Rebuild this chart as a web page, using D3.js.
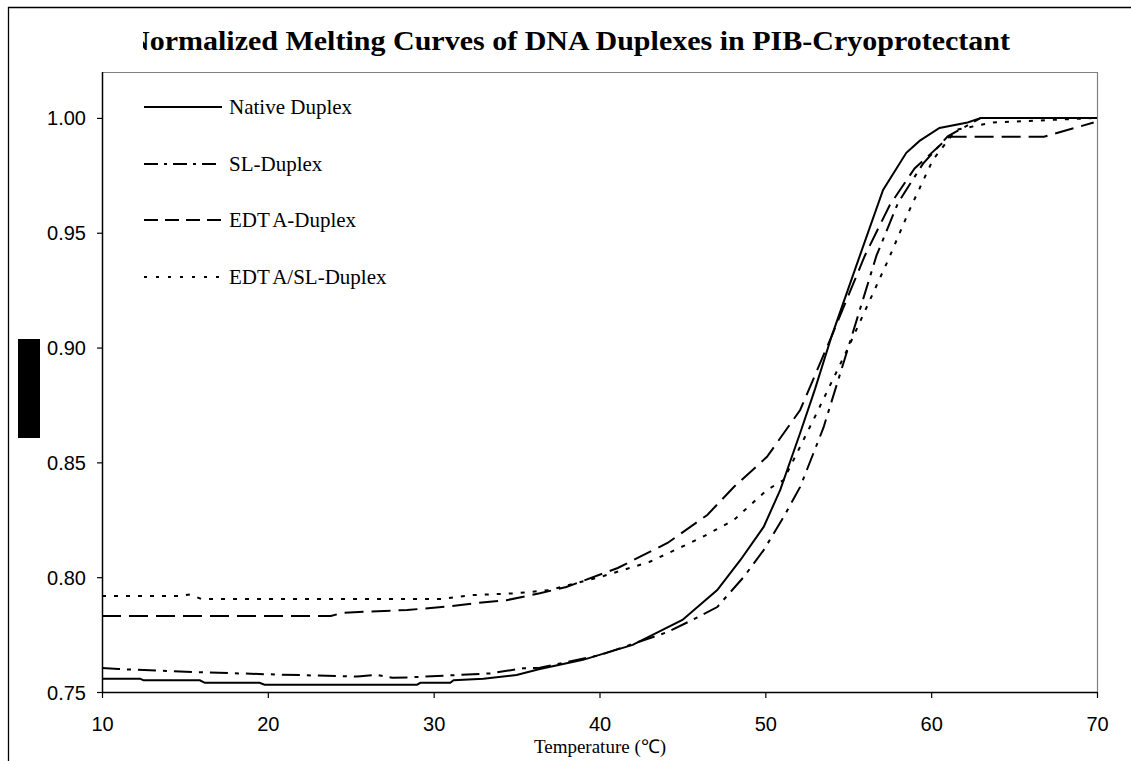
<!DOCTYPE html>
<html><head><meta charset="utf-8">
<script src="https://cdn.jsdelivr.net/npm/d3@7"></script>
<style>html,body{margin:0;padding:0;background:#fff;}svg{display:block;}</style>
</head><body>
<svg id="chart" width="1131" height="761"></svg>
<script>
const titleText = "Normalized Melting Curves of DNA Duplexes in PIB-Cryoprotectant";
const xTitle = "Temperature (\u2103)";
const xTicks = [10, 20, 30, 40, 50, 60, 70];
const yTicks = [0.75, 0.80, 0.85, 0.90, 0.95, 1.00];
const seriesNames = ["Native Duplex", "SL-Duplex", "EDTA-Duplex", "EDTA/SL-Duplex"];

const nativeT = [10, 12.3, 12.5, 15.9, 16.2, 19.5, 19.8, 29, 29.2, 31, 31.2, 33, 35, 36.4, 39, 42, 45, 47.1, 48.5, 49.9, 50.9, 52.1, 53, 54, 55.6, 57.1, 58.5, 59.3, 60.5, 62.2, 63, 70];
const nativeV = [0.7558, 0.7558, 0.7551, 0.7551, 0.754, 0.754, 0.7532, 0.7532, 0.754, 0.754, 0.7551, 0.7558, 0.7574, 0.7600, 0.764, 0.7705, 0.7814, 0.7944, 0.8075, 0.8219, 0.838, 0.8628, 0.882, 0.905, 0.938, 0.9686, 0.9848, 0.990, 0.9956, 0.998, 1.0, 1.0];

const slT = [10, 11, 14.7, 20.1, 25.4, 26.5, 27.5, 28.6, 31.4, 33.4, 35.4, 36.4, 40, 44.1, 45.6, 47.1, 48.7, 49.9, 51.1, 52.1, 53.5, 55, 56.7, 58, 59.5, 61, 63, 70];
const slV = [0.7604, 0.7600, 0.7589, 0.7577, 0.7567, 0.7575, 0.7562, 0.7564, 0.7574, 0.7581, 0.7603, 0.7606, 0.766, 0.7761, 0.7814, 0.787, 0.8001, 0.8118, 0.8262, 0.8393, 0.865, 0.900, 0.94, 0.963, 0.980, 0.992, 1.0, 1.0];

const edtaT = [10, 23.8, 24.5, 26, 28.4, 30.8, 32.4, 34.4, 36.4, 38, 41.1, 44.1, 46.5, 48.1, 50.1, 52.1, 54, 56, 57.5, 59, 61.1, 66.8, 69.8];
const edtaV = [0.7831, 0.7831, 0.7845, 0.785, 0.7857, 0.7872, 0.7886, 0.790, 0.793, 0.7957, 0.804, 0.8149, 0.8271, 0.8393, 0.8524, 0.8728, 0.905, 0.94, 0.962, 0.978, 0.9918, 0.9918, 0.998];

const edtaSlT = [10, 14.7, 15.3, 16, 30.4, 32.4, 35, 37, 40, 43, 46.1, 48.1, 50.1, 51.1, 53, 55, 57.4, 58.7, 60.1, 61.5, 63.7, 70];
const edtaSlV = [0.7918, 0.7918, 0.7925, 0.7905, 0.7905, 0.7922, 0.793, 0.7944, 0.800, 0.8066, 0.8171, 0.8249, 0.838, 0.8423, 0.87, 0.90, 0.938, 0.960, 0.9817, 0.9948, 0.998, 1.0];

const seriesT = [nativeT, slT, edtaT, edtaSlT];
const seriesV = [nativeV, slV, edtaV, edtaSlV];
const dashes = [null, "18,7,4,7", "19,8", "4,8"];
const legendDashes = [null, "14,6,3,6", "14,7", "3,9"];

(function () {
const svg = d3.select("#chart");
const pL = 102, pR = 1097, pT = 72, pB = 692;
const x = d3.scaleLinear().domain([10, 70]).range([pL, pR]);
const y = d3.scaleLinear().domain([0.75, 1.02]).range([pB, pT]);
const serif = "'Liberation Serif', 'Times New Roman', serif";
const sans = "'Liberation Sans', Arial, sans-serif";

svg.append("path").attr("d", "M8.5,761 V7.5 H1131").attr("fill", "none").attr("stroke", "#000").attr("stroke-width", 1.3);

svg.append("clipPath").attr("id", "tclip").append("rect").attr("x", 143).attr("y", 0).attr("width", 1000).attr("height", 70);
svg.append("text").attr("clip-path", "url(#tclip)")
  .attr("x", 569).attr("y", 50).attr("text-anchor", "middle")
  .attr("font-family", serif).attr("font-weight", "bold")
  .attr("font-size", 27).attr("textLength", 882).attr("lengthAdjust", "spacingAndGlyphs")
  .text(titleText);

svg.append("path").attr("d", `M${pL},${pT + 0.5} H${pR + 0.5} V${pB}`).attr("fill", "none").attr("stroke", "#808080").attr("stroke-width", 1.2);

const xAxis = d3.axisBottom(x).tickValues(xTicks).tickSize(6).tickFormat(d3.format("d"));
const yAxis = d3.axisLeft(y).tickValues(yTicks).tickSize(5).tickFormat(d3.format(".2f"));
const gx = svg.append("g").attr("transform", `translate(0,${pB})`).call(xAxis);
const gy = svg.append("g").attr("transform", `translate(${pL},0)`).call(yAxis);
gx.select(".domain").attr("d", `M${pL},0.5H${pR}`).attr("stroke", "#000").attr("stroke-width", 1.5);
gy.select(".domain").attr("d", `M0.5,${pT}V${pB}`).attr("stroke", "#000").attr("stroke-width", 1.5);
gx.selectAll(".tick line").attr("stroke", "#000").attr("stroke-width", 1.2);
gy.selectAll(".tick line").attr("stroke", "#000").attr("stroke-width", 1.2);
gx.selectAll(".tick text").attr("font-family", sans).attr("font-size", 20).attr("fill", "#000").attr("y", 0).attr("dy", "1.95em");
gy.selectAll(".tick text").attr("font-family", sans).attr("font-size", 20).attr("fill", "#000").attr("x", -16).attr("dy", "0.35em");

svg.append("text").attr("x", 600).attr("y", 753).attr("text-anchor", "middle")
  .attr("font-family", serif).attr("font-size", 19).text(xTitle);

svg.append("rect").attr("x", 18).attr("y", 339).attr("width", 22).attr("height", 99).attr("fill", "#000");

const line = d3.line().x(d => x(d[0])).y(d => y(d[1]));
seriesT.forEach((ts, i) => {
  const pts = ts.map((t, j) => [t, seriesV[i][j]]);
  svg.append("path").datum(pts).attr("d", line).attr("fill", "none").attr("stroke", "#000")
    .attr("stroke-width", 2).attr("stroke-dasharray", dashes[i]);
});

const legY = [107, 164, 220, 277];
seriesNames.forEach((name, i) => {
  svg.append("line").attr("x1", 144).attr("x2", 222).attr("y1", legY[i]).attr("y2", legY[i])
    .attr("stroke", "#000").attr("stroke-width", 2).attr("stroke-dasharray", legendDashes[i]);
  const t = svg.append("text").attr("x", 229).attr("y", legY[i]).attr("dy", "0.35em")
    .attr("font-family", serif).attr("font-size", 21);
  if (name.startsWith("EDTA")) {
    t.append("tspan").text("EDT");
    t.append("tspan").attr("dx", 4).text(name.slice(3));
  } else {
    t.text(name);
  }
});
})();
</script>
</body></html>
